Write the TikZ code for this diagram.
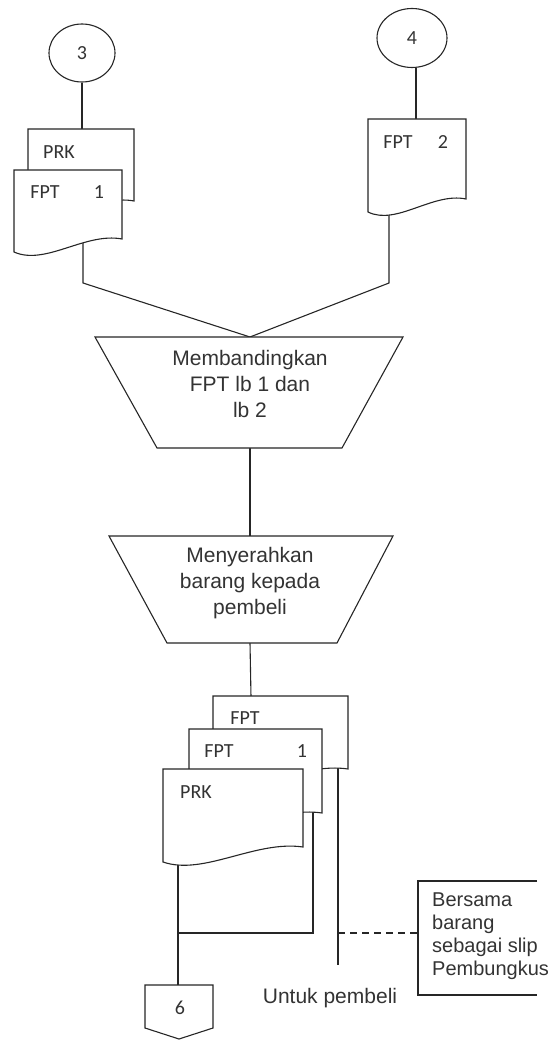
\documentclass[tikz,border=0pt]{standalone}
\usepackage{fontspec}
\setmainfont{Liberation Sans}
\newfontfamily\docfont{Carlito}
\usetikzlibrary{shapes.geometric}
\tikzset{
  x=1pt, y=-1pt,
  line/.style={draw=black!85, line width=1.1pt},
  docshape/.style={draw=black!85, line width=1.1pt, fill=white},
  doclabel/.style={font=\docfont\fontsize{20}{22}\selectfont, text=black!80, inner sep=0pt},
  proclabel/.style={font=\fontsize{21}{26}\selectfont, text=black!80, align=center, inner sep=0pt},
  notelabel/.style={font=\fontsize{20}{23}\selectfont, text=black!80, align=left, inner sep=0pt},
  conn/.style={ellipse, draw=black!85, line width=1.1pt, fill=white, inner sep=0pt, font=\docfont\fontsize{20}{22}\selectfont, text=black!80},
}
% document shape: #1 left x, #2 right x, #3 top y, #4 right-bottom y, #5 left-bottom y
\newcommand{\docpath}[5]{%
  \path[docshape] (#1,#3) -- (#2,#3) -- (#2,#4)
    .. controls ({#2-0.34*(#2-#1)},{#4-7}) and ({#1+0.29*(#2-#1)},{#5+14}) .. (#1,#5) -- cycle;}
\begin{document}
\begin{tikzpicture}
\useasboundingbox (0,0) rectangle (547,1040);

% ---------- coordinates ----------
\coordinate (prkTop) at (82,129);
\coordinate (fptTwoTop) at (416,119);
\coordinate (fptOneOut) at (83,240);
\coordinate (fptOneBend) at (83,283);
\coordinate (fptTwoOut) at (389,205);
\coordinate (fptTwoBend) at (389,283);
\coordinate (tOneTop) at (250,337);
\coordinate (tOneBot) at (250,448);
\coordinate (tTwoTop) at (250,536);
\coordinate (tTwoBot) at (250,643);
\coordinate (stackTop) at (251,697);
\coordinate (prkOut) at (178,850);
\coordinate (sixTop) at (178,985);
\coordinate (midOut) at (313,800);
\coordinate (midBend) at (313,933);
\coordinate (joinPt) at (178,933);
\coordinate (backOut) at (338,760);
\coordinate (backEnd) at (338,965);
\coordinate (dashStart) at (338,933);
\coordinate (noteL) at (418,933);

% ---------- connectors (drawn first, docs on top) ----------
\node[conn, minimum width=66, minimum height=58] (cThree) at (82,53) {3};
\node[conn, minimum width=70, minimum height=59] (cFour) at (412,38) {4};
\draw[line] (cThree.south) -- (prkTop);
\draw[line] (cFour.south -| fptTwoTop) -- (fptTwoTop);
\draw[line] (fptOneOut) -- (fptOneBend) -- (tOneTop);
\draw[line] (fptTwoOut) -- (fptTwoBend) -- (tOneTop);
\draw[line] (tOneBot) -- (tTwoTop);
\draw[line] (tTwoBot) -- (stackTop);
\draw[line] (prkOut) -- (sixTop);
\draw[line] (midOut) -- (midBend) -- (joinPt);
\draw[line] (backOut) -- (backEnd);
\draw[line, dashed, dash pattern=on 7pt off 5pt] (dashStart) -- (noteL);

% ---------- top left stack ----------
\docpath{28}{134}{129}{201}{214}
\docpath{14}{122}{170}{239}{252}
\node[doclabel] (lblPrkA) at (59,152) {PRK};
\node[doclabel] (lblFptA) at (45,192) {FPT};
\node[doclabel] (lblOneA) at (99,192) {1};

% ---------- top right document ----------
\docpath{368}{466}{119}{199}{212}
\node[doclabel] (lblFptB) at (398,142) {FPT};
\node[doclabel] (lblTwoB) at (443,142) {2};

% ---------- process 1 ----------
\path[docshape] (95,337) -- (403,337) -- (342,448) -- (157,448) -- cycle;
\node[proclabel] (pOne) at (250,384) {Membandingkan\\FPT lb 1 dan\\lb 2};

% ---------- process 2 ----------
\path[docshape] (109,536) -- (393,536) -- (337,643) -- (167,643) -- cycle;
\node[proclabel] (pTwo) at (250,583) {Menyerahkan\\barang kepada\\pembeli};

% ---------- bottom stack ----------
\docpath{213}{348}{696}{769}{782}
\docpath{189}{322}{729}{813}{826}
\docpath{163}{303}{769}{847}{862}
\node[doclabel] (lblFptC) at (245,718) {FPT};
\node[doclabel] (lblFptD) at (219,751) {FPT};
\node[doclabel] (lblOneD) at (302,751) {1};
\node[doclabel] (lblPrkD) at (196,792) {PRK};

% ---------- off-page connector 6 ----------
\path[docshape] (145,985) -- (213,985) -- (213,1028) -- (179,1039) -- (145,1028) -- cycle;
\node[doclabel] (lblSix) at (180,1008) {6};

% ---------- annotation ----------
\draw[line] (537,881) -- (418,881) -- (418,995) -- (537,995);
\node[notelabel, anchor=north west] (note) at (432,893) {Bersama\\barang\\sebagai slip\\Pembungkus};
\node[proclabel] (untuk) at (330,998) {Untuk pembeli};
\end{tikzpicture}
\end{document}
